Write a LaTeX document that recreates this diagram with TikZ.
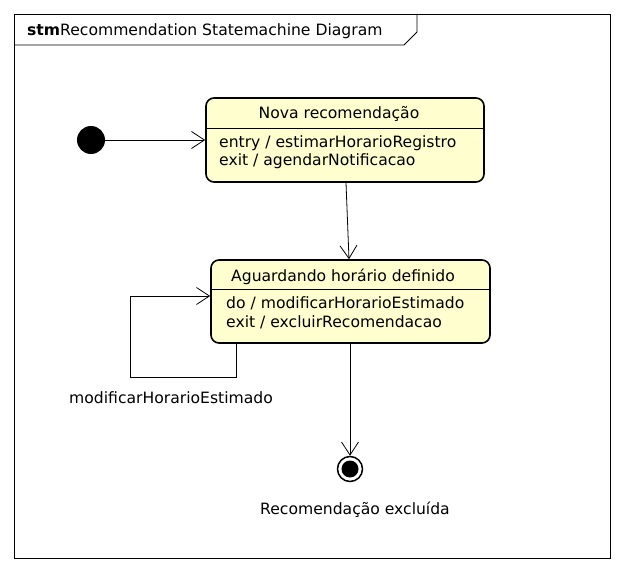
\documentclass[tikz,border=0pt]{standalone}
\usepackage{fontspec}
\setmainfont{DejaVu Sans}
\usetikzlibrary{arrows.meta,calc}
\definecolor{stfill}{HTML}{FEFECE}
\begin{document}
\begin{tikzpicture}[x=1pt,y=-1pt,
  every node/.style={font=\fontsize{15.6}{18}\selectfont, inner sep=0pt},
  statebox/.style={draw, line width=1.6pt, rounded corners=8pt, fill=stfill},
  arr/.style={line width=0.8pt, -{Straight Barb[length=13pt,width=17pt,line width=0.8pt]}},
  lbl/.style={anchor=base west}]
\useasboundingbox (0,0) rectangle (624,572);
\fill[white] (0,0) rectangle (624,572);
% frame
\draw[line width=0.8pt] (14,14) rectangle (610,558);
\draw[line width=0.8pt] (14,45) -- (404,45) -- (417,32) -- (417,14);
\node[anchor=base west] (title) at (27,36) {\textbf{stm}Recommendation Statemachine Diagram};
% initial
\node[circle, fill=black, minimum size=28pt] (init) at (91,140) {};
% state 1
\node[statebox, minimum width=278pt, minimum height=84pt] (s1) at (345,140) {};
\draw[line width=0.8pt] (s1.west |- 0,128) -- (s1.east |- 0,128);
\node (s1t) at (339,114) {Nova recomendação};
\node[lbl] (s1a) at (219,148) {entry / estimarHorarioRegistro};
\node[lbl] (s1b) at (219,166) {exit / agendarNotificacao};
% state 2
\node[statebox, minimum width=279pt, minimum height=83pt] (s2) at (350.5,301.5) {};
\draw[line width=0.8pt] (s2.west |- 0,289) -- (s2.east |- 0,289);
\node (s2t) at (343,277) {Aguardando horário definido};
\node[lbl] (s2a) at (226,308) {do / modificarHorarioEstimado};
\node[lbl] (s2b) at (226,327) {exit / excluirRecomendacao};
% final
\node[circle, draw, line width=1.5pt, minimum size=25pt] (fin) at (350,469) {};
\node[circle, fill=black, minimum size=17pt] (finin) at (fin) {};
% connectors
\draw[arr] (init) -- (s1);
\draw[arr] ([xshift=1pt]s1.south) -- ([xshift=-1.5pt]s2.north);
\coordinate (l1) at ($(s2.south west)+(26.5,0)$);
\coordinate (l2) at (130,377);
\coordinate (l3) at (130,296);
\draw[arr] (l1) |- (l2) |- (s2.west |- l3);
\draw[arr] (s2.south -| fin) -- (fin.north);
% labels
\node (lbl1) at (171,398) {modificarHorarioEstimado};
\node (lbl2) at (355,510) {Recomendação excluída};
\end{tikzpicture}
\end{document}
